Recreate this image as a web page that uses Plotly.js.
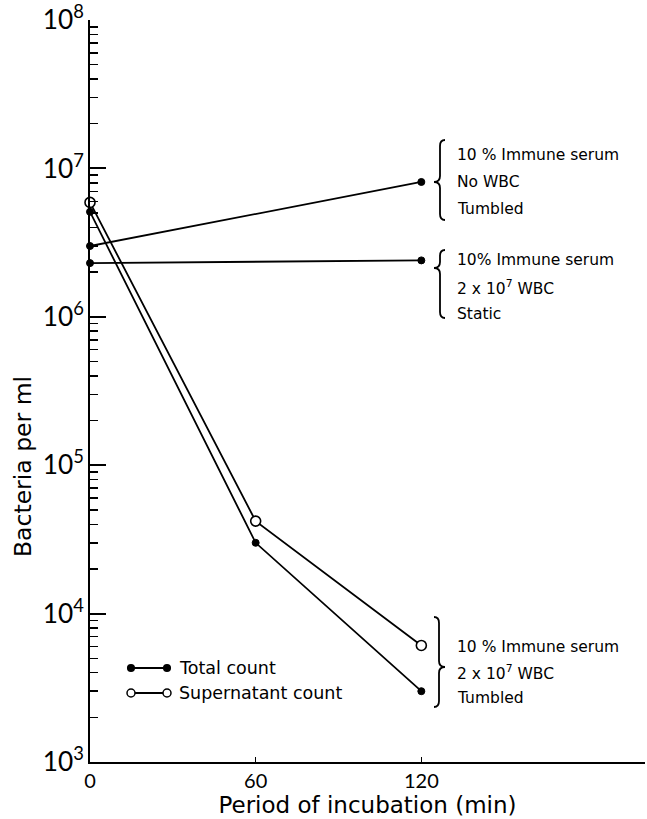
<!DOCTYPE html>
<html>
<head>
<meta charset="utf-8">
<script src="https://cdn.plot.ly/plotly-3.0.1.min.js"></script>
<style>html,body{margin:0;padding:0;background:#fff;}#chart{width:647px;height:819px;}</style>
</head>
<body>
<div id="chart"></div>
<script>
// ---- data ----
const times = [0, 60, 120];
const totalCount = [5.1e6, 3.0e4, 3.0e3];
const supernatantCount = [5.9e6, 4.2e4, 6.1e3];
const controlTimes = [0, 120];
const noWbcTumbled = [3.0e6, 8.1e6];
const wbcStatic = [2.3e6, 2.4e6];
const xTickVals = [0, 60, 120];
const legendLabels = ['Total count', 'Supernatant count'];
const groupNoWbc = ['10 % Immune serum', 'No WBC', 'Tumbled'];
const groupStatic = ['10% Immune serum', '2 x 10<sup>7</sup> WBC', 'Static'];
const groupTumbled = ['10 % Immune serum', '2 x 10<sup>7</sup> WBC', 'Tumbled'];
const xTitle = 'Period of incubation (min)';
const yTitle = 'Bacteria per ml';

// ---- layout helpers (pixel -> paper) ----
const W = 647, H = 819;
const M = {l: 90, r: 2, t: 20, b: 57};
const PW = W - M.l - M.r, PH = H - M.t - M.b;
const px = x => (x - M.l) / PW;
const py = y => (H - M.b - y) / PH;
const FONT = '"DejaVu Sans", sans-serif';
const TICKFONT = 'Lato, "DejaVu Sans", sans-serif';

function bracePath(xs, yTop, yTip, yBot, dir) {
  const h = -dir * 5, t = dir * 6, r = 6;
  const P = (x, y) => px(x).toFixed(5) + ',' + py(y).toFixed(5);
  return 'M' + P(xs + h, yTop) +
    ' Q' + P(xs, yTop) + ' ' + P(xs, yTop + r) +
    ' L' + P(xs, yTip - r) +
    ' Q' + P(xs, yTip) + ' ' + P(xs + t, yTip) +
    ' Q' + P(xs, yTip) + ' ' + P(xs, yTip + r) +
    ' L' + P(xs, yBot - r) +
    ' Q' + P(xs, yBot) + ' ' + P(xs + h, yBot);
}

const lineStyle = {color: '#000', width: 1.8};
const filled = {symbol: 'circle', size: 7, color: '#000', line: {color: '#000', width: 1}};
const open = {symbol: 'circle', size: 10, color: '#fff', line: {color: '#000', width: 1.6}};

const traces = [
  {x: controlTimes, y: noWbcTumbled, mode: 'lines+markers', line: lineStyle, marker: filled, cliponaxis: false, showlegend: false},
  {x: controlTimes, y: wbcStatic, mode: 'lines+markers', line: lineStyle, marker: filled, cliponaxis: false, showlegend: false},
  {x: times, y: totalCount, mode: 'lines+markers', line: lineStyle, marker: filled, cliponaxis: false, showlegend: false},
  {x: times, y: supernatantCount, mode: 'lines+markers', line: lineStyle, marker: open, cliponaxis: false, showlegend: false}
];

const annotations = [];
function group(lines, xLeft, yFirst, gap) {
  lines.forEach((t, i) => annotations.push({
    xref: 'paper', yref: 'paper', x: px(xLeft), y: py(yFirst + i * gap),
    xanchor: 'left', yanchor: 'middle', showarrow: false, text: t,
    font: {family: FONT, size: 15.5, color: '#000'}
  }));
}
group(groupNoWbc, 455, 155, 27);
group(groupStatic, 455, 260, 27);
group(groupTumbled, 455, 647, 25.5);
legendLabels.forEach((t, i) => annotations.push({
  xref: 'paper', yref: 'paper', x: px(177), y: py(668 + i * 25),
  xanchor: 'left', yanchor: 'middle', showarrow: false, text: t,
  font: {family: FONT, size: 17.5, color: '#000'}
}));
// y-axis title (placed as in the reference, below the axis centre)
annotations.push({
  xref: 'paper', yref: 'paper', x: px(23), y: py(467), xanchor: 'center', yanchor: 'middle',
  textangle: -90, showarrow: false, text: yTitle,
  font: {family: FONT, size: 23.5, color: '#000'}
});

const shapes = [
  {type: 'path', xref: 'paper', yref: 'paper', path: bracePath(440, 140, 182, 220, -1), line: {color: '#000', width: 1.8}},
  {type: 'path', xref: 'paper', yref: 'paper', path: bracePath(440, 250, 268, 318, -1), line: {color: '#000', width: 1.8}},
  {type: 'path', xref: 'paper', yref: 'paper', path: bracePath(439, 617, 667, 707, 1), line: {color: '#000', width: 1.8}}
];
// legend glyphs
[[668, 'f'], [693, 'o']].forEach(([y, kind]) => {
  shapes.push({type: 'line', xref: 'paper', yref: 'paper', x0: px(131), x1: px(167), y0: py(y), y1: py(y), line: {color: '#000', width: 1.8}});
  [131, 167].forEach(x => {
    const r = kind === 'f' ? 3.3 : 4;
    shapes.push({type: 'circle', xref: 'paper', yref: 'paper', xsizemode: 'pixel', ysizemode: 'pixel',
      xanchor: px(x), yanchor: py(y), x0: -r, x1: r, y0: -r, y1: r,
      fillcolor: kind === 'f' ? '#000' : '#fff', line: {color: '#000', width: 1.5}});
  });
});

const layout = {
  width: W, height: H,
  margin: M,
  paper_bgcolor: '#fff', plot_bgcolor: '#fff',
  font: {family: FONT, color: '#000'},
  showlegend: false,
  xaxis: {
    range: [0, 201], tickvals: xTickVals, ticktext: xTickVals.map(String),
    ticks: 'inside', ticklen: 5, tickwidth: 1.5, tickcolor: '#000',
    showline: true, linewidth: 2, linecolor: '#000', showgrid: false, zeroline: false,
    tickfont: {family: TICKFONT, size: 20, color: '#000'},
    title: {text: xTitle, font: {family: FONT, size: 23, color: '#000'}, standoff: 0}
  },
  yaxis: {
    type: 'log', range: [3, 8], dtick: 1, exponentformat: 'power',
    ticks: 'inside', ticklen: 16, tickwidth: 2, tickcolor: '#000',
    minor: {ticks: 'inside', ticklen: 8, tickwidth: 1.5, tickcolor: '#000', dtick: 'D1', showgrid: false},
    showline: true, linewidth: 2, linecolor: '#000', showgrid: false, zeroline: false,
    tickfont: {family: TICKFONT, size: 21, color: '#000'}
  },
  annotations: annotations,
  shapes: shapes
};

Plotly.newPlot('chart', traces, layout, {staticPlot: true, displayModeBar: false});
</script>
</body>
</html>
